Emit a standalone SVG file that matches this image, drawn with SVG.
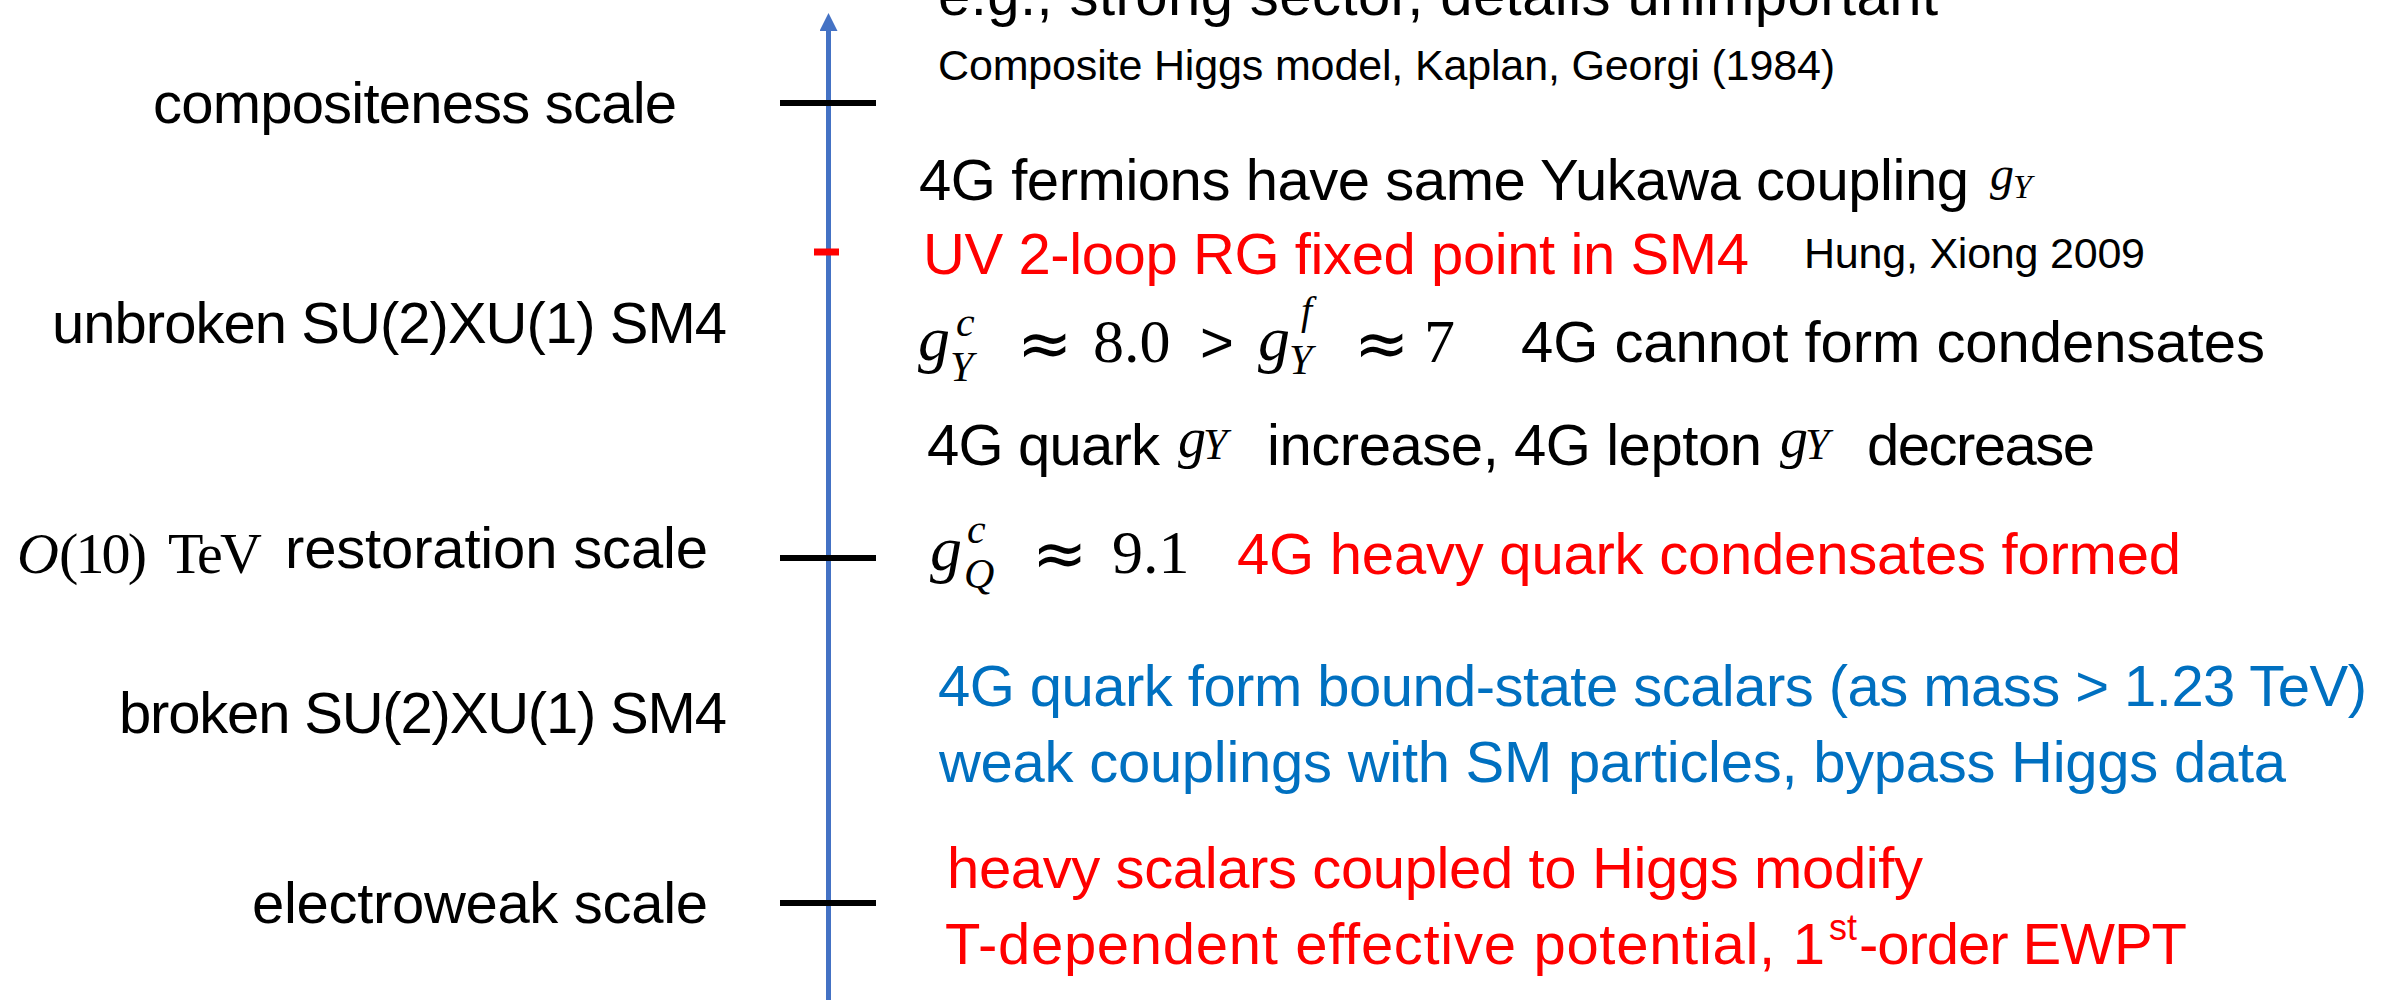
<svg xmlns="http://www.w3.org/2000/svg" width="2399" height="1000" viewBox="0 0 2399 1000">
  <style>
    .t { font-family: "Liberation Sans", Arial, sans-serif; font-size: 58px; fill: #000000; }
    .small { font-size: 43px; }
    .sup { font-size: 36px; }
    .red { fill: #FF0000; }
    .blue { fill: #0070C0; }
    .m { font-family: "Liberation Serif", "Times New Roman", serif; fill: #000000; }
    .approx { font-family: "DejaVu Sans", "Liberation Serif", serif; font-size: 66px; fill: #000000; }
    .it { font-style: italic; }
    .tick { stroke: #000000; stroke-width: 6; }
    .tick-red { stroke: #FF0000; stroke-width: 7; }
    .axis { stroke: #4472C4; stroke-width: 5; fill: none; }
  </style>
  <defs>
    <marker id="arrowhead" markerUnits="userSpaceOnUse" markerWidth="18" markerHeight="18" viewBox="0 0 18 18" refX="0" refY="9" orient="auto">
      <path d="M0,0 L18,9 L0,18 Z" fill="#4472C4"/>
    </marker>
  </defs>
  <rect width="2399" height="1000" fill="#FFFFFF"/>

  <g id="connectors">
    <line class="axis" x1="828.5" y1="1000" x2="828.5" y2="31" marker-end="url(#arrowhead)"/>
  </g>

  <g id="node-compositeness">
    <line class="tick" x1="780" y1="103" x2="876" y2="103"/>
    <text class="t" x="153" y="123" textLength="524">compositeness scale</text>
    <text class="t" x="938" y="15" textLength="1000">e.g., strong sector, details unimportant</text>
    <text class="t small" x="938" y="80" textLength="897">Composite Higgs model, Kaplan, Georgi (1984)</text>
  </g>

  <g id="node-fixed-point">
    <text class="t" x="919" y="200" textLength="1050">4G fermions have same Yukawa coupling</text>
    <text class="m it" x="1990" y="190" font-size="48">g<tspan x="2013" y="198" font-size="34">Y</tspan></text>
    <line class="tick-red" x1="814" y1="252" x2="839" y2="252"/>
    <text class="t red" x="923" y="274" textLength="826">UV 2-loop RG fixed point in SM4</text>
    <text class="t small" x="1804" y="268" textLength="341">Hung, Xiong 2009</text>
  </g>

  <g id="node-unbroken">
    <text class="t" x="52" y="343" textLength="675">unbroken SU(2)XU(1) SM4</text>
    <text class="m it" x="918" y="360" font-size="64">g<tspan x="956" y="336" font-size="42">c</tspan><tspan x="950" y="381" font-size="42">Y</tspan></text>
    <text class="approx" x="1017" y="366">≈</text>
    <text class="m" x="1093" y="362" font-size="62">8.0</text>
    <text class="t" x="1200" y="362">&gt;</text>
    <text class="m it" x="1258" y="360" font-size="64">g<tspan x="1301" y="324" font-size="40">f</tspan><tspan x="1289" y="374" font-size="42">Y</tspan></text>
    <text class="approx" x="1354" y="366">≈</text>
    <text class="m" x="1424" y="362" font-size="62">7</text>
    <text class="t" x="1521" y="362" textLength="744">4G cannot form condensates</text>
    <text class="t" x="927" y="465" textLength="233">4G quark</text>
    <text class="m it" x="1178" y="457" font-size="56">g<tspan x="1203" y="459" font-size="44">Y</tspan></text>
    <text class="t" x="1267" y="465" textLength="495">increase, 4G lepton</text>
    <text class="m it" x="1780" y="457" font-size="56">g<tspan x="1805" y="459" font-size="44">Y</tspan></text>
    <text class="t" x="1867" y="465" textLength="228">decrease</text>
  </g>

  <g id="node-restoration">
    <line class="tick" x1="780" y1="558" x2="876" y2="558"/>
    <text class="m" x="17" y="573" font-size="58"><tspan class="it">O</tspan><tspan x="59" textLength="88">(10)</tspan><tspan x="168" textLength="94">TeV</tspan></text>
    <text class="t" x="285" y="568" textLength="423">restoration scale</text>
    <text class="m it" x="930" y="570" font-size="64">g<tspan x="967" y="543" font-size="42">c</tspan><tspan x="964" y="588" font-size="42">Q</tspan></text>
    <text class="approx" x="1032" y="576">≈</text>
    <text class="m" x="1112" y="573" font-size="62">9.1</text>
    <text class="t red" x="1237" y="574" textLength="944">4G heavy quark condensates formed</text>
  </g>

  <g id="node-broken">
    <text class="t" x="119" y="733" textLength="608">broken SU(2)XU(1) SM4</text>
    <text class="t blue" x="938" y="706" textLength="1429">4G quark form bound-state scalars (as mass &gt; 1.23 TeV)</text>
    <text class="t blue" x="939" y="782" textLength="1347">weak couplings with SM particles, bypass Higgs data</text>
  </g>

  <g id="node-electroweak">
    <line class="tick" x1="780" y1="903" x2="876" y2="903"/>
    <text class="t" x="252" y="923" textLength="456">electroweak scale</text>
    <text class="t red" x="947" y="888" textLength="976">heavy scalars coupled to Higgs modify</text>
    <text class="t red" x="945" y="964" textLength="880">T-dependent effective potential, 1</text>
    <text class="t red sup" x="1829" y="940">st</text>
    <text class="t red" x="1859" y="964" textLength="328">-order EWPT</text>
  </g>
</svg>
